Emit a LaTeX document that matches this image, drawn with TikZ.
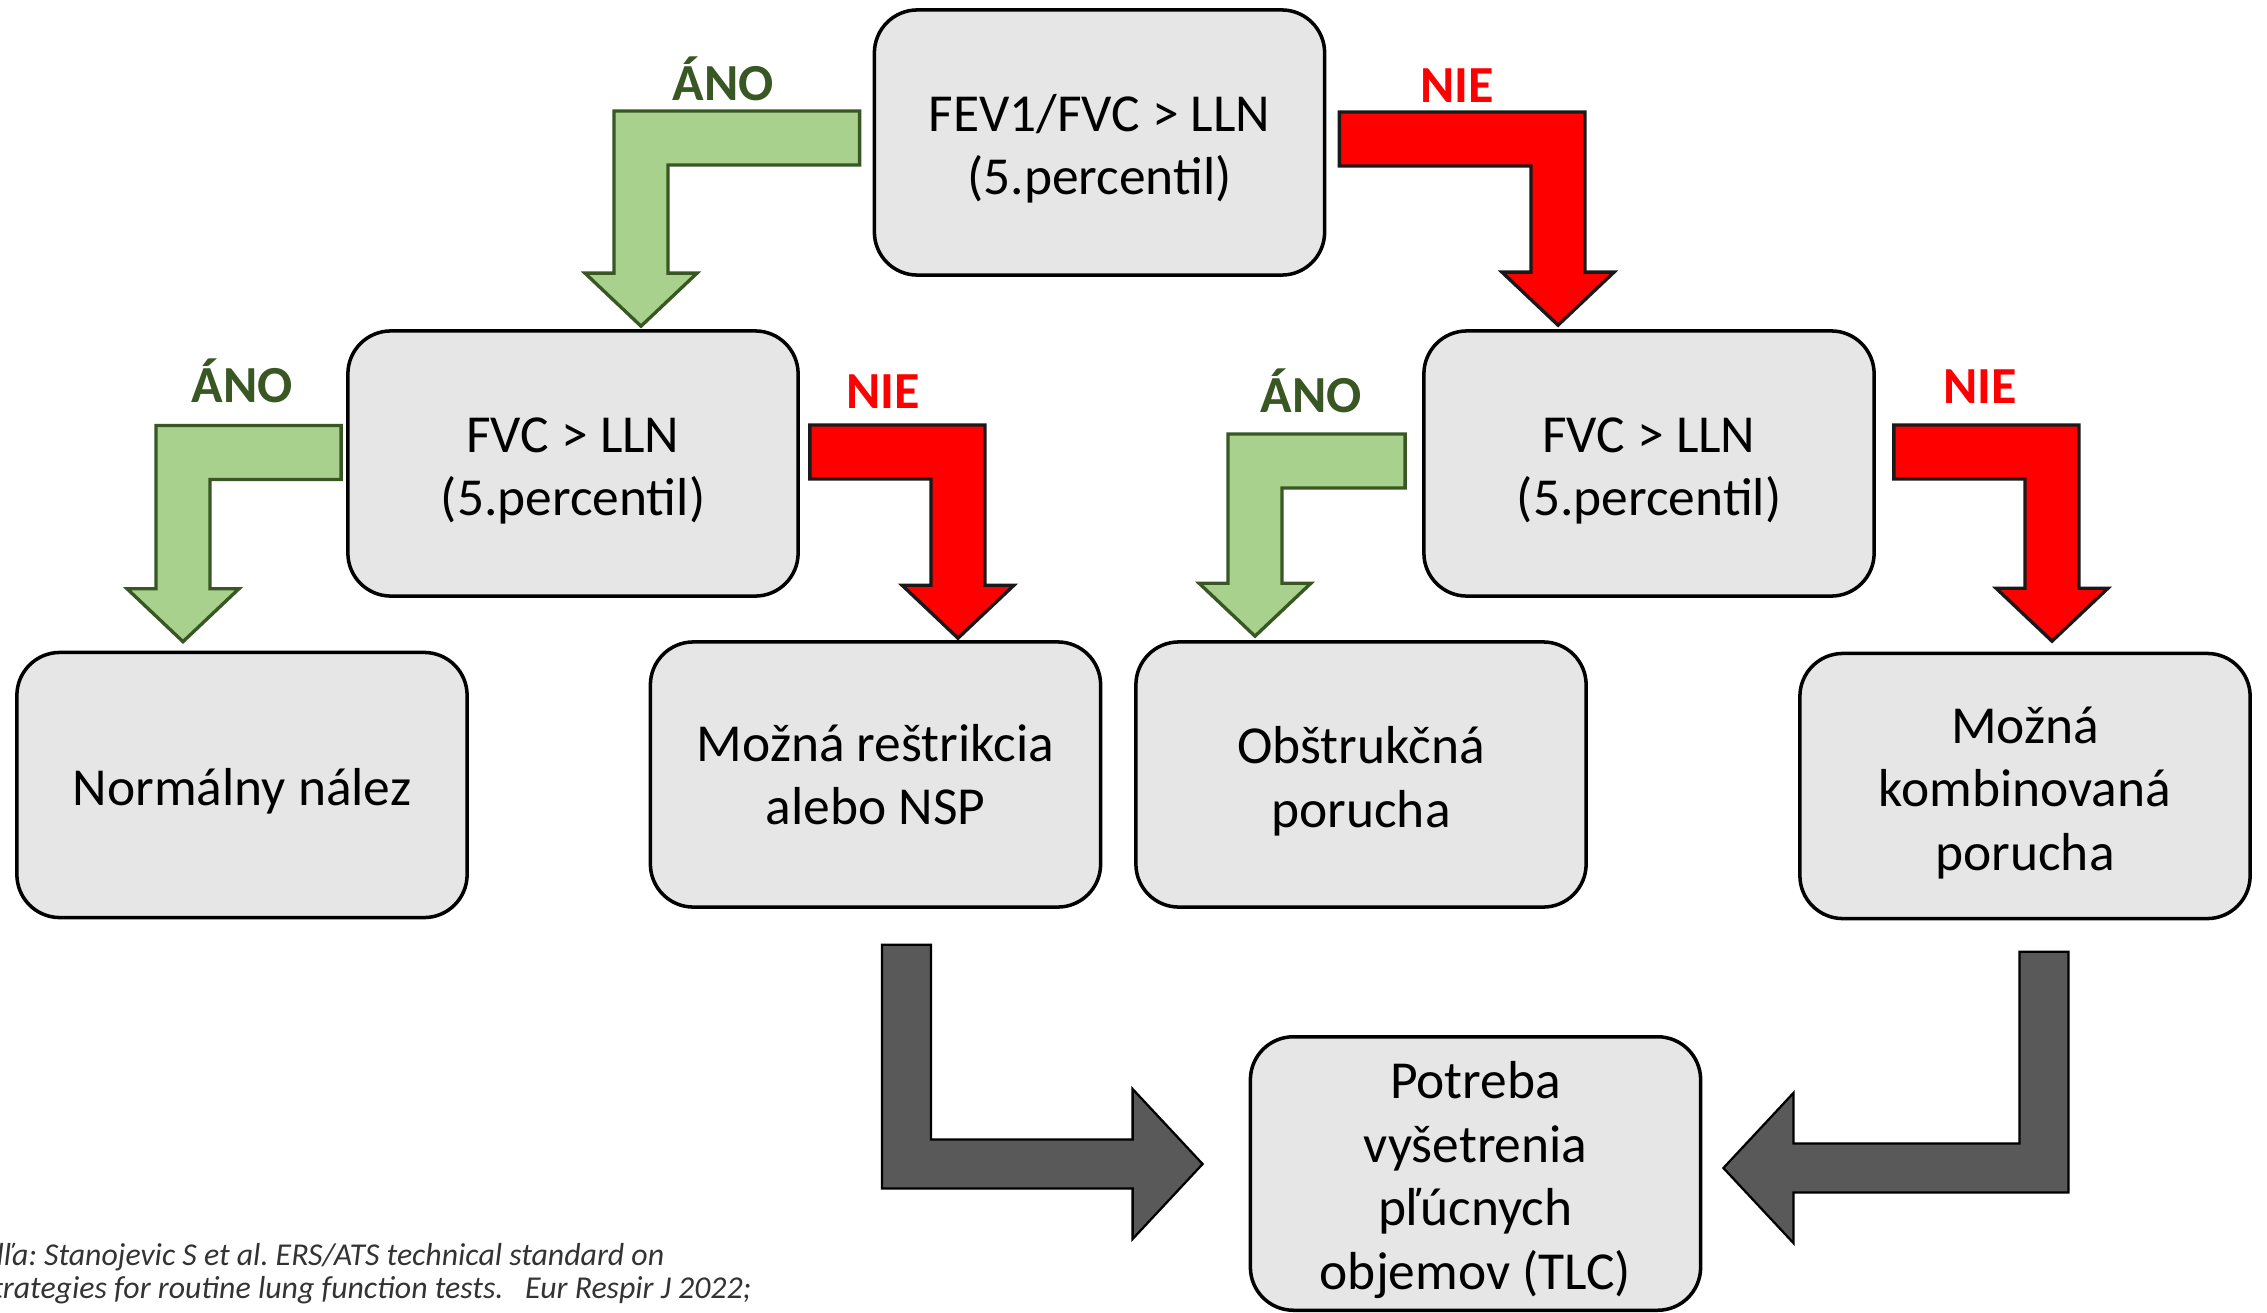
\documentclass[tikz,border=0pt]{standalone}
\usepackage{fontspec}
\setmainfont{Carlito}
\usepackage{tikz}
\usetikzlibrary{positioning,calc}

\definecolor{boxgray}{HTML}{E7E6E6}
\definecolor{anofill}{HTML}{A9D18E}
\definecolor{anodark}{HTML}{385723}
\definecolor{niered}{HTML}{FF0000}
\definecolor{arrgray}{HTML}{595959}

% taller first line, so the box text sits a bit lower
\newcommand{\boxstrut}{\rule{0pt}{14.2pt}}

% bent arrow: sideways first, then down to the tip
\newcommand{\turndown}[4]{%
  \draw[#1] ($(#2)+(0,-27)$) -- ($(#2 -| #3)+({(#4)*27},-27)$)
    -- ($(#3)+({(#4)*27},-53)$) -- ($(#3)+({(#4)*56},-53)$) -- (#3)
    -- ($(#3)+({-(#4)*56},-53)$) -- ($(#3)+({-(#4)*27},-53)$)
    -- ($(#2 -| #3)+({-(#4)*27},27)$) -- ($(#2)+(0,27)$) -- cycle;}

% bent arrow: down first, then sideways to the tip
\newcommand{\turnside}[4]{%
  \draw[#1] ($(#2)+({-(#4)*24.5},0)$) -- ($(#2 |- #3)+({-(#4)*24.5},24.5)$)
    -- ($(#3)+({-(#4)*70},24.5)$) -- ($(#3)+({-(#4)*70},75)$) -- (#3)
    -- ($(#3)+({-(#4)*70},-75)$) -- ($(#3)+({-(#4)*70},-24.5)$)
    -- ($(#2 |- #3)+({(#4)*24.5},-24.5)$) -- ($(#2)+({(#4)*24.5},0)$) -- cycle;}

\begin{document}
\begin{tikzpicture}[
    x=0.01cm, y=-0.01cm,
    box/.style={rectangle, rounded corners=0.43cm, draw, line width=1pt, fill=boxgray,
      minimum width=4.5cm, minimum height=2.65cm, align=center,
      font=\fontsize{15.2}{18.1}\selectfont},
    yesarr/.style={draw=anodark, fill=anofill, line width=0.95pt},
    noarr/.style={draw=black!90, fill=niered, line width=0.95pt},
    grayarr/.style={draw=black, fill=arrgray, line width=0.65pt},
    yeslab/.style={anchor=base, text=anodark, font=\fontsize{14.8}{17.6}\selectfont\bfseries},
    nolab/.style={anchor=base, text=niered, font=\fontsize{14.8}{17.6}\selectfont\bfseries},
    src/.style={anchor=base east, inner sep=0pt, text=black!80,
      font=\fontsize{9.05}{9.6}\selectfont\itshape\frenchspacing}
]
    \useasboundingbox (0,0) rectangle (2267,1312);

    % decision boxes
    \node[box] (ratio) at (1099.5,142.5) {\boxstrut FEV1/FVC > LLN\\(5.percentil)};
    \node[box] (fvcL) at (573,463.5) {\boxstrut FVC > LLN\\(5.percentil)};
    \node[box] (fvcR) at (1649,463.5) {\boxstrut FVC > LLN\\(5.percentil)};

    % result boxes
    \node[box] (normal) at (242,785) {\boxstrut Normálny nález};
    \node[box] (restr) at (875.5,774.5) {Možná reštrikcia\\alebo NSP};
    \node[box] (obstr) at (1361,774.5) {\boxstrut Obštrukčná\\porucha};
    \node[box] (komb) at (2025,786) {\boxstrut Možná\\kombinovaná\\porucha};
    \node[box] (tlc) at (1475.5,1173.5) {\boxstrut Potreba\\vyšetrenia\\pľúcnych\\objemov (TLC)};

    % arrow ends
    \coordinate (sA) at ($(ratio.west)+(-13,-4.5)$);
    \coordinate (tA) at ($(fvcL.north)+(68,-3)$);
    \coordinate (sB) at ($(ratio.east)+(13,-3.5)$);
    \coordinate (tB) at ($(fvcR.north)+(-91,-4)$);
    \coordinate (sC) at ($(fvcL.west)+(-5,-11)$);
    \coordinate (tC) at ($(normal.north)+(-59,-9)$);
    \coordinate (sD) at ($(fvcL.east)+(10,-11.5)$);
    \coordinate (tD) at ($(restr.north)+(82.5,-2)$);
    \coordinate (sE) at ($(fvcR.west)+(-17,-2.5)$);
    \coordinate (tE) at ($(obstr.north)+(-106,-4)$);
    \coordinate (sF) at ($(fvcR.east)+(18,-11.5)$);
    \coordinate (tF) at ($(komb.north)+(27,-10.5)$);
    \coordinate (sG) at ($(restr.south)+(31,36)$);
    \coordinate (tG) at ($(tlc.west)+(-46,-9.5)$);
    \coordinate (sH) at ($(komb.south)+(19,31.5)$);
    \coordinate (tH) at ($(tlc.east)+(21,-5.5)$);

    \turndown{yesarr}{sA}{tA}{-1}
    \turndown{noarr}{sB}{tB}{1}
    \turndown{yesarr}{sC}{tC}{-1}
    \turndown{noarr}{sD}{tD}{1}
    \turndown{yesarr}{sE}{tE}{-1}
    \turndown{noarr}{sF}{tF}{1}
    \turnside{grayarr}{sG}{tG}{1}
    \turnside{grayarr}{sH}{tH}{-1}

    % answers
    \node[yeslab] (anoA) at (723,100) {ÁNO};
    \node[nolab] (nieB) at (1457,102) {NIE};
    \node[yeslab] (anoC) at (242,402) {ÁNO};
    \node[nolab] (nieD) at (883,408) {NIE};
    \node[yeslab] (anoE) at (1311,412) {ÁNO};
    \node[nolab] (nieF) at (1980,403) {NIE};

    % source, cut at the left edge
    \begin{scope}
        \clip (0,0) rectangle (2267,1312);
        \node[src] (cite1) at (665,1265) {Podľa: Stanojevic S et al. ERS/ATS technical standard on};
        \node[src] (cite2) at (752,1298) {strategies for routine lung function tests. \ \ Eur Respir J 2022;};
    \end{scope}
\end{tikzpicture}
\end{document}
